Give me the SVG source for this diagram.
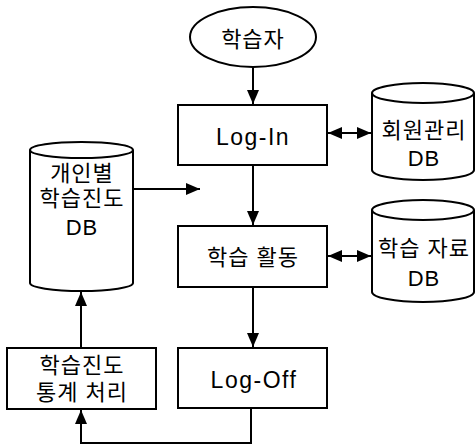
<svg xmlns="http://www.w3.org/2000/svg" width="475" height="446" viewBox="0 0 475 446">
<style>
.s{fill:#fff;stroke:#000;stroke-width:2}
.t{font-family:"Liberation Sans","Noto Sans CJK KR",sans-serif;font-size:22px;letter-spacing:1px;fill:#000;text-anchor:middle}
.l{font-family:"Liberation Sans",sans-serif;font-size:23px;letter-spacing:1.5px;fill:#000;text-anchor:middle}
.c{fill:none;stroke:#000;stroke-width:2}
</style>
<defs>
<marker id="ah" viewBox="0 0 14 12" refX="14" refY="6" markerWidth="14" markerHeight="12" orient="auto-start-reverse" markerUnits="userSpaceOnUse">
<path d="M0,0 L14,6 L0,12 Z" fill="#000"/>
</marker>
</defs>
<g id="learner">
<ellipse class="s" cx="253" cy="37" rx="63" ry="30"/>
<text class="t" x="253" y="47">학습자</text>
</g>
<g id="login">
<rect class="s" x="178" y="105" width="149" height="60"/>
<text class="l" x="253" y="145">Log-In</text>
</g>
<g id="activity">
<rect class="s" x="178" y="226" width="149" height="61"/>
<text class="t" x="253" y="265">학습 활동</text>
</g>
<g id="logoff">
<rect class="s" x="178" y="348" width="149" height="60"/>
<text class="l" x="254" y="388">Log-Off</text>
</g>
<g id="stats">
<rect class="s" x="7" y="348" width="149" height="61"/>
<text class="t" x="82" y="373">학습진도</text>
<text class="t" x="82" y="400">통계 처리</text>
</g>
<g id="memberdb">
<path class="s" d="M372,93 L372,170 A51,10 0 0 0 474,170 L474,93"/>
<ellipse class="s" cx="423" cy="93" rx="51" ry="10"/>
<text class="t" x="424" y="138">회원관리</text>
<text class="t" x="424" y="166">DB</text>
</g>
<g id="materialdb">
<path class="s" d="M372,210 L372,292 A51,10 0 0 0 474,292 L474,210"/>
<ellipse class="s" cx="423" cy="210" rx="51" ry="10"/>
<text class="t" x="424" y="256">학습 자료</text>
<text class="t" x="424" y="286">DB</text>
</g>
<g id="progressdb">
<path class="s" d="M30,150 L30,283 A51,8 0 0 0 133,283 L133,150"/>
<ellipse class="s" cx="81.5" cy="150" rx="51.5" ry="8"/>
<text class="t" x="82" y="181">개인별</text>
<text class="t" x="82" y="206">학습진도</text>
<text class="t" x="82" y="235">DB</text>
</g>
<g id="connectors">
<line class="c" x1="253" y1="67" x2="253" y2="104" marker-end="url(#ah)"/>
<line class="c" x1="253" y1="165" x2="253" y2="225" marker-end="url(#ah)"/>
<line class="c" x1="253" y1="287" x2="253" y2="347" marker-end="url(#ah)"/>
<line class="c" x1="328" y1="133" x2="371" y2="133" marker-start="url(#ah)" marker-end="url(#ah)"/>
<line class="c" x1="328" y1="256" x2="371" y2="256" marker-start="url(#ah)" marker-end="url(#ah)"/>
<line class="c" x1="134" y1="189" x2="200" y2="189" marker-end="url(#ah)"/>
<polyline class="c" points="251,408 251,443 81,443 81,410" marker-end="url(#ah)"/>
<line class="c" x1="81" y1="348" x2="81" y2="292" marker-end="url(#ah)"/>
</g>
</svg>
